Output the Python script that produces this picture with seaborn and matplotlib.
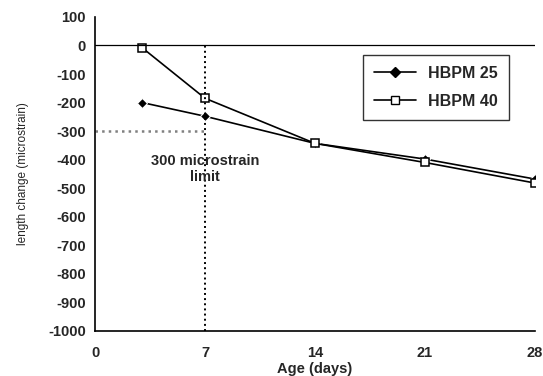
import numpy as np
import pandas as pd
import matplotlib.pyplot as plt
import seaborn as sns

# data
age = [3, 7, 14, 21, 28]
hbpm25 = [-200, -248, -343, -398, -468]
hbpm40 = [-8, -185, -343, -410, -482]
series = ['HBPM 25', 'HBPM 40']

df = pd.DataFrame({
    'age': age * 2,
    'change': hbpm25 + hbpm40,
    'mix': [series[0]] * len(age) + [series[1]] * len(age),
})

sns.set_style('white')
plt.rcParams['font.family'] = ['Liberation Sans', 'DejaVu Sans']
plt.rcParams['axes.unicode_minus'] = False

fig = plt.figure(figsize=(5.43, 3.76), dpi=100)
ax = fig.add_axes([0.175, 0.12, 0.81, 0.835])

sns.lineplot(data=df, x='age', y='change', hue='mix', style='mix',
             markers={'HBPM 25': 'D', 'HBPM 40': 's'}, dashes=False,
             palette={'HBPM 25': 'black', 'HBPM 40': 'black'},
             linewidth=1.2, markersize=6, ax=ax, legend=False)
lines = ax.get_lines()
lines[0].set_markersize(5.5)
lines[1].set_markerfacecolor('white')
lines[1].set_markeredgecolor('black')
lines[1].set_markeredgewidth(1.1)

# reference lines
ax.axhline(0, color='black', linewidth=0.9)
ax.plot([7, 7], [-1000, 0], color='black', linestyle=':', linewidth=1.4)
ax.plot([0, 7], [-300, -300], color='gray', linestyle=':', linewidth=1.8)
ax.text(7, -432, '300 microstrain\nlimit', ha='center', va='center',
        fontsize=10.5, fontweight='bold', linespacing=1.2)

ax.set_xlim(0, 28)
ax.set_ylim(-1000, 100)
ax.set_xticks([0, 7, 14, 21, 28])
ax.set_xticks(np.arange(0, 29, 1), minor=True)
ax.set_yticks(np.arange(-1000, 101, 100))
ax.tick_params(axis='both', which='both', direction='out', length=3, width=0.8,
               labelsize=10.5, color='black')
ax.tick_params(axis='x', which='minor', length=2)
ax.tick_params(axis='x', which='major', pad=8)
for lbl in ax.get_xticklabels() + ax.get_yticklabels():
    lbl.set_fontweight('bold')

for side in ['top', 'right']:
    ax.spines[side].set_visible(False)
for side in ['left', 'bottom']:
    ax.spines[side].set_color('black')
    ax.spines[side].set_linewidth(1.2)

ax.set_xlabel('Age (days)', fontsize=10.5, fontweight='bold', labelpad=1)
ax.set_ylabel('length change (microstrain)', fontsize=8.5, labelpad=14)

handles = [
    plt.Line2D([], [], color='black', marker='D', markersize=5.5, linewidth=1.2),
    plt.Line2D([], [], color='black', marker='s', markersize=6, linewidth=1.2,
               markerfacecolor='white'),
]
leg = ax.legend(handles, series, loc='upper right', bbox_to_anchor=(0.96, 0.905),
                frameon=True, fancybox=False, edgecolor='black',
                prop={'weight': 'bold', 'size': 11.5}, handlelength=2.6,
                borderpad=0.7, labelspacing=0.8)
leg.get_frame().set_linewidth(1)

fig.savefig('out.png', dpi=100)
